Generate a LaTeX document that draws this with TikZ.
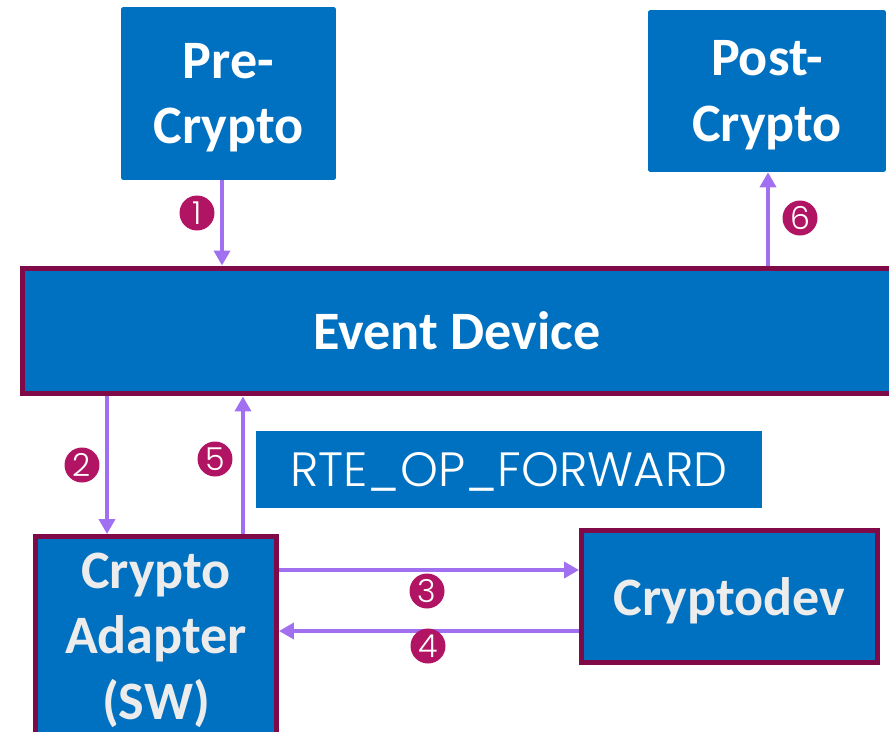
\documentclass[tikz,border=0pt]{standalone}
\usepackage{fontspec}
\setmainfont{Carlito}
\newfontfamily\thinfont{Poppins}[UprightFont=* Light]
\usetikzlibrary{arrows.meta}
\definecolor{ocean}{RGB}{0,112,192}
\definecolor{wine}{RGB}{128,10,72}
\definecolor{lilac}{RGB}{160,112,240}
\definecolor{berry}{RGB}{176,20,98}
\definecolor{paper}{RGB}{236,236,236}

\begin{document}
\begin{tikzpicture}[x=0.02cm,y=-0.02cm,
  block/.style={fill=ocean, text=white, align=center, inner sep=0pt, text depth=0pt,
    font=\bfseries\fontsize{30.8}{37.3}\selectfont},
  framed/.style={block, draw=wine, line width=0.1cm, text=paper},
  flow/.style={draw=lilac, line width=0.08cm, -{Triangle[length=0.3cm,width=0.32cm]}},
  badge/.style={circle, fill=berry, text=white, minimum size=0.7cm, inner sep=0pt,
    font=\thinfont\fontsize{18}{18}\selectfont}]
\clip (0,0) rectangle (889,731);

\node [block, rounded corners=1pt, minimum width=4.3cm, minimum height=3.46cm] (pre) at (228.5,93.5) {Pre-\\Crypto};
\node [block, rounded corners=1pt, minimum width=4.76cm, minimum height=3.24cm] (post) at (767,91) {Post-\\Crypto};
\node [framed, text=white, minimum width=17.38cm, minimum height=2.52cm] (dev) at (457,331) {Event Device};
\node [block, minimum width=10.12cm, minimum height=1.54cm, font=\thinfont\fontsize{27.4}{27.4}\selectfont] (rte) at (509,469.5) {RTE\_OP\_FORWARD};
\node [framed, minimum width=4.82cm, minimum height=3.98cm] (ad) at (156,636) {Crypto\\Adapter\\(SW)};
\node [framed, minimum width=5.92cm, minimum height=2.64cm] (cd) at (729.5,596.5) {Cryptodev};

\draw [flow] ([xshift=-0.13cm]pre.south) -- ([xshift=-0.13cm]pre.south |- dev.north);
\draw [flow] ([xshift=-0.98cm]ad.north |- dev.south) -- ([xshift=-0.98cm]ad.north);
\draw [flow] ([yshift=1.32cm]ad.east) -- ([yshift=1.32cm]ad.east -| cd.west);
\draw [flow] ([yshift=0.1cm]ad.east -| cd.west) -- ([yshift=0.1cm]ad.east);
\draw [flow] ([xshift=1.74cm]ad.north) -- ([xshift=1.74cm]ad.north |- dev.south);
\draw [flow] ([xshift=0.02cm]post.south |- dev.north) -- ([xshift=0.02cm]post.south);

\node [badge] (n1) at (197,213) {1};
\node [badge] (n2) at (82,465) {2};
\node [badge] (n3) at (427,591) {3};
\node [badge] (n4) at (428,646) {4};
\node [badge] (n5) at (215,459) {5};
\node [badge] (n6) at (800,218) {6};
\end{tikzpicture}
\end{document}
